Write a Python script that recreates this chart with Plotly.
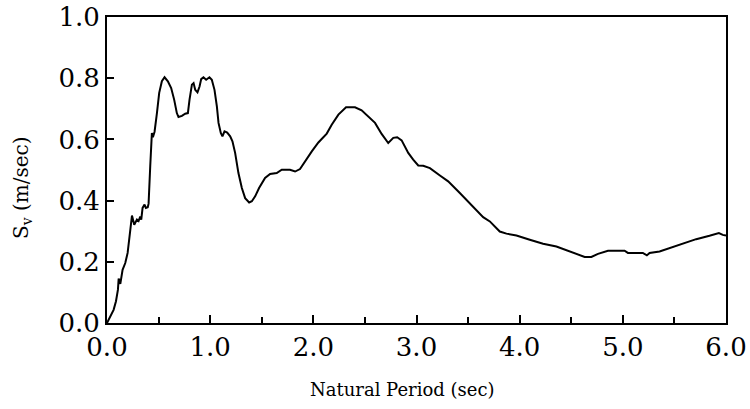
import plotly.graph_objects as go

period = [0.000, 0.032, 0.064, 0.087, 0.106, 0.113, 0.129, 0.151, 0.177, 0.200,
          0.219, 0.232, 0.242, 0.264, 0.290, 0.306, 0.322, 0.332, 0.345, 0.364,
          0.377, 0.395, 0.403, 0.419, 0.435, 0.445, 0.461, 0.484, 0.506, 0.532,
          0.558, 0.590, 0.622, 0.651, 0.677, 0.693, 0.726, 0.758, 0.784, 0.800,
          0.823, 0.839, 0.855, 0.877, 0.897, 0.913, 0.935, 0.961, 0.993, 1.016,
          1.042, 1.065, 1.081, 1.103, 1.119, 1.139, 1.165, 1.194, 1.216, 1.242,
          1.274, 1.307, 1.339, 1.378, 1.404, 1.436, 1.474, 1.532, 1.581, 1.645,
          1.694, 1.774, 1.823, 1.871, 1.919, 1.985, 2.049, 2.130, 2.178, 2.243,
          2.317, 2.404, 2.468, 2.533, 2.598, 2.662, 2.726, 2.775, 2.813, 2.856,
          2.920, 2.968, 3.017, 3.065, 3.130, 3.227, 3.307, 3.420, 3.549, 3.646,
          3.711, 3.807, 3.872, 3.969, 4.098, 4.227, 4.356, 4.485, 4.565, 4.630,
          4.695, 4.759, 4.856, 5.017, 5.049, 5.194, 5.233, 5.259, 5.356, 5.453,
          5.582, 5.711, 5.840, 5.931, 5.969, 6.000]

sv = [0.000, 0.022, 0.043, 0.071, 0.109, 0.145, 0.128, 0.174, 0.196, 0.229,
      0.294, 0.338, 0.351, 0.321, 0.338, 0.333, 0.348, 0.338, 0.376, 0.387,
      0.376, 0.378, 0.390, 0.512, 0.621, 0.607, 0.625, 0.686, 0.752, 0.790,
      0.803, 0.790, 0.768, 0.730, 0.686, 0.673, 0.677, 0.684, 0.686, 0.730,
      0.779, 0.784, 0.762, 0.754, 0.773, 0.797, 0.803, 0.795, 0.803, 0.795,
      0.762, 0.708, 0.654, 0.621, 0.610, 0.626, 0.622, 0.610, 0.594, 0.556,
      0.490, 0.441, 0.408, 0.394, 0.398, 0.414, 0.441, 0.474, 0.487, 0.490,
      0.501, 0.501, 0.495, 0.503, 0.528, 0.561, 0.590, 0.619, 0.648, 0.681,
      0.705, 0.705, 0.695, 0.675, 0.654, 0.618, 0.588, 0.605, 0.607, 0.597,
      0.556, 0.534, 0.515, 0.514, 0.506, 0.482, 0.463, 0.425, 0.381, 0.346,
      0.332, 0.299, 0.292, 0.286, 0.272, 0.259, 0.250, 0.234, 0.223, 0.216,
      0.216, 0.226, 0.236, 0.236, 0.229, 0.229, 0.221, 0.229, 0.234, 0.245,
      0.259, 0.274, 0.285, 0.294, 0.288, 0.286]

x_ticks = [0, 1, 2, 3, 4, 5, 6]
x_tick_labels = ["0.0", "1.0", "2.0", "3.0", "4.0", "5.0", "6.0"]
y_ticks = [0.0, 0.2, 0.4, 0.6, 0.8, 1.0]
y_tick_labels = ["0.0", "0.2", "0.4", "0.6", "0.8", "1.0"]
x_title = "Natural Period (sec)"
y_title = "S<sub>v</sub> (m/sec)"

FONT = "DejaVu Serif"

fig = go.Figure()
fig.add_trace(go.Scatter(x=period, y=sv, mode="lines",
                         line=dict(color="black", width=2),
                         showlegend=False, hoverinfo="skip"))

fig.update_layout(
    width=750, height=409, autosize=False,
    margin=dict(l=107, r=24, t=17, b=86),
    paper_bgcolor="white", plot_bgcolor="white",
    font=dict(family=FONT, color="black"),
)

fig.update_xaxes(
    range=[0, 6], showgrid=False, zeroline=False, automargin=False,
    showline=True, linecolor="black", linewidth=2, mirror=True,
    tickmode="array", tickvals=x_ticks, ticktext=x_tick_labels,
    ticks="inside", ticklen=8, tickwidth=2, tickcolor="black",
    minor=dict(dtick=0.5, ticks="inside", ticklen=6, tickwidth=2, tickcolor="black", showgrid=False),
    tickfont=dict(family=FONT, size=26, color="black"),
)
fig.update_yaxes(
    range=[0, 1], showgrid=False, zeroline=False, automargin=False,
    showline=True, linecolor="black", linewidth=2, mirror=True,
    tickmode="array", tickvals=y_ticks, ticktext=y_tick_labels,
    ticks="inside", ticklen=7, tickwidth=2, tickcolor="black",
    tickfont=dict(family=FONT, size=26, color="black"),
)

# plot area spans x 107..726 px, y 17..323 px
fig.add_annotation(text=x_title, xref="paper", yref="paper",
                   x=(402 - 107) / 619, y=(323 - 389) / 306,
                   xanchor="center", yanchor="middle", showarrow=False,
                   font=dict(family=FONT, size=18, color="black"))
fig.add_annotation(text=y_title, xref="paper", yref="paper",
                   x=(22 - 107) / 619, y=(323 - 188) / 306,
                   xanchor="center", yanchor="middle", showarrow=False, textangle=-90,
                   font=dict(family=FONT, size=20, color="black"))

fig.write_html("out.html")
